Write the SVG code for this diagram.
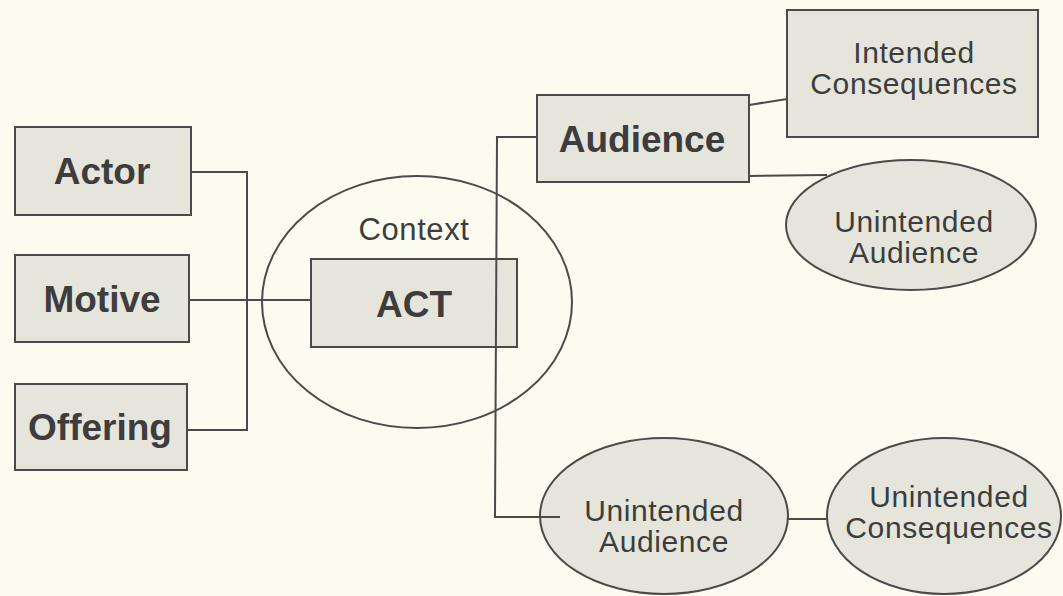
<svg xmlns="http://www.w3.org/2000/svg" width="1063" height="596" viewBox="0 0 1063 596">
<style>
.bg{fill:#fbfbef}
.box{fill:#e6e5dc;stroke:#4a4a4a;stroke-width:2}
.ctx{fill:none;stroke:#4a4a4a;stroke-width:2}
.conn{fill:none;stroke:#4a4a4a;stroke-width:2}
.b{font-family:"Liberation Sans",Arial,sans-serif;font-weight:bold;font-size:37px;fill:#3d3d3d;text-anchor:middle}
.r{font-family:"Liberation Sans",Arial,sans-serif;font-size:30px;letter-spacing:0.6px;fill:#3d3d3d;text-anchor:middle}
</style>
<rect class="bg" x="0" y="0" width="1063" height="596"/>
<g id="context">
<ellipse class="ctx" cx="417" cy="302" rx="155" ry="126"/>
<text class="r" x="414" y="240" style="font-size:31px">Context</text>
</g>
<g id="actor">
<rect class="box" x="15" y="127" width="176" height="88"/>
<text class="b" x="102" y="184">Actor</text>
</g>
<g id="motive">
<rect class="box" x="15" y="255" width="174" height="87"/>
<text class="b" x="102" y="312">Motive</text>
</g>
<g id="offering">
<rect class="box" x="15" y="384" width="172" height="86"/>
<text class="b" x="100" y="440">Offering</text>
</g>
<g id="act">
<rect class="box" x="311" y="259" width="206" height="88"/>
<text class="b" x="414" y="317">ACT</text>
</g>
<g id="audience">
<rect class="box" x="537" y="95" width="212" height="87"/>
<text class="b" x="642" y="152">Audience</text>
</g>
<g id="intended-consequences">
<rect class="box" x="787" y="10" width="251" height="127"/>
<text class="r" x="914" y="63">Intended</text>
<text class="r" x="914" y="94">Consequences</text>
</g>
<g id="unintended-audience-1">
<ellipse class="box" cx="911" cy="225" rx="125" ry="65"/>
<text class="r" x="914" y="232">Unintended</text>
<text class="r" x="914" y="263">Audience</text>
</g>
<g id="unintended-audience-2">
<ellipse class="box" cx="664" cy="516" rx="124" ry="78"/>
<text class="r" x="664" y="521">Unintended</text>
<text class="r" x="664" y="552">Audience</text>
</g>
<g id="unintended-consequences">
<ellipse class="box" cx="944" cy="516" rx="117" ry="78"/>
<text class="r" x="949" y="507">Unintended</text>
<text class="r" x="949" y="538">Consequences</text>
</g>
<g id="connectors">
<polyline class="conn" points="191,172 247,172 247,430 187,430"/>
<line class="conn" x1="189" y1="300" x2="311" y2="300"/>
<polyline class="conn" points="537,137 497,137 495,517 560,517"/>
<line class="conn" x1="749" y1="105" x2="787" y2="99"/>
<line class="conn" x1="749" y1="176" x2="827" y2="175"/>
<line class="conn" x1="788" y1="519" x2="827" y2="519"/>
</g>
</svg>
